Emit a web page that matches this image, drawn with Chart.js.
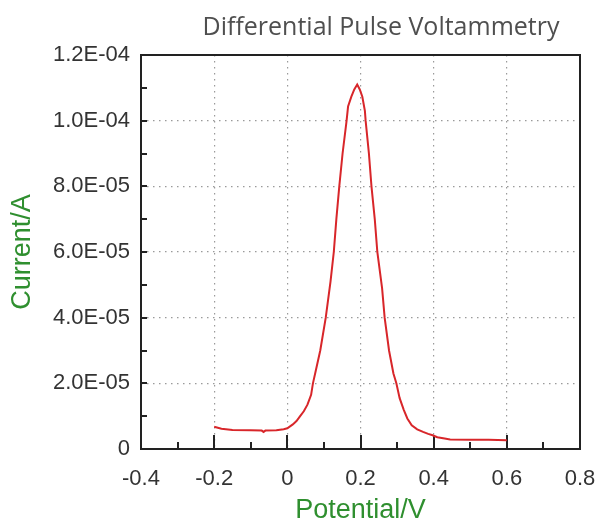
<!DOCTYPE html>
<html>
<head>
<meta charset="utf-8">
<script src="https://cdn.jsdelivr.net/npm/chart.js@4"></script>
<style>
body{margin:0;background:#fff;}
#wrap{width:596px;height:525px;}
</style>
</head>
<body>
<div id="wrap"><canvas id="dpv" width="596" height="525"></canvas></div>
<script>
// potential (V) and current (A)
const potential = [-0.2,-0.18,-0.15,-0.1,-0.07,-0.065,-0.06,-0.03,-0.01,0,0.015,0.025,0.035,0.045,0.055,0.065,0.07,0.078,0.09,0.105,0.118,0.127,0.134,0.142,0.151,0.162,0.166,0.175,0.183,0.191,0.198,0.205,0.212,0.214,0.223,0.23,0.239,0.246,0.259,0.266,0.278,0.29,0.298,0.307,0.318,0.328,0.34,0.355,0.371,0.385,0.397,0.41,0.43,0.445,0.5,0.55,0.6];
const current = [6.8e-6,6.2e-6,5.8e-6,5.7e-6,5.6e-6,5.2e-6,5.6e-6,5.7e-6,6.0e-6,6.3e-6,7.5e-6,8.5e-6,1.0e-5,1.15e-5,1.35e-5,1.65e-5,2.0e-5,2.4e-5,3.0e-5,4.0e-5,5.1e-5,6.0e-5,7.0e-5,8.0e-5,9.0e-5,1.0e-4,1.043e-4,1.073e-4,1.095e-4,1.11e-4,1.095e-4,1.073e-4,1.03e-4,1.0e-4,9.0e-5,8.0e-5,7.0e-5,6.0e-5,4.9e-5,4.0e-5,3.0e-5,2.3e-5,2.0e-5,1.55e-5,1.2e-5,9.3e-6,7.2e-6,6.0e-6,5.2e-6,4.6e-6,4.2e-6,3.6e-6,3.2e-6,2.9e-6,2.8e-6,2.8e-6,2.7e-6];

const xTicks = [-0.4,-0.2,0,0.2,0.4,0.6,0.8];
const xTickLabels = ["-0.4","-0.2","0","0.2","0.4","0.6","0.8"];
const yTicks = [0,2e-5,4e-5,6e-5,8e-5,1e-4,1.2e-4];
const yTickLabels = ["0","2.0E-05","4.0E-05","6.0E-05","8.0E-05","1.0E-04","1.2E-04"];

const titleText = "Differential Pulse Voltammetry";
const xTitle = "Potential/V";
const yTitle = "Current/A";

const green = '#2f8f2f';
const labelFont = {family:'"Liberation Sans", Arial, sans-serif', size:22};

function mids(arr){
let out=[];
for(let i=0;i<arr.length-1;i++) out.push((arr[i]+arr[i+1])/2);
return out;
}

// frame, inward ticks, titles
const decor = {
id:'decor',
beforeDatasetsDraw(chart){
const c = chart.ctx;
const a = chart.chartArea;
const xs = chart.scales.x;
const ys = chart.scales.y;
c.save();
c.strokeStyle='#222';
c.lineWidth=2;
c.beginPath();
xTicks.forEach(v=>{
const px = Math.round(xs.getPixelForValue(v));
c.moveTo(px,a.bottom); c.lineTo(px,a.bottom-14);
});
mids(xTicks).forEach(v=>{
const px = Math.round(xs.getPixelForValue(v));
c.moveTo(px,a.bottom); c.lineTo(px,a.bottom-7);
});
yTicks.concat(mids(yTicks)).forEach(v=>{
const py = Math.round(ys.getPixelForValue(v));
c.moveTo(a.left,py); c.lineTo(a.left+6,py);
});
c.stroke();
c.strokeRect(a.left,a.top,a.right-a.left,a.bottom-a.top);
c.restore();
},
afterDraw(chart){
const c = chart.ctx;
const a = chart.chartArea;
c.save();
c.fillStyle='#4f4f4f';
c.font='25px "Open Sans", "Noto Sans", sans-serif';
c.textAlign='center';
c.textBaseline='alphabetic';
c.fillText(titleText,381,35);
c.fillStyle=green;
c.font='27px "Liberation Sans", Arial, sans-serif';
c.fillText(xTitle,(a.left+a.right)/2,518);
c.translate(30,(a.top+a.bottom)/2);
c.rotate(-Math.PI/2);
c.fillText(yTitle,0,0);
c.restore();
}
};

const ctx = document.getElementById("dpv");

let chart = new Chart(ctx,{
type:'line',
data:{
datasets:[{
data: potential.map((v,i)=>({x:v,y:current[i]})),
borderColor:'#d8262a',
borderWidth:2,
pointRadius:0,
tension:0,
fill:false
}]
},
options:{
responsive:false,
animation:false,
layout:{padding:{left:0,right:16,top:55,bottom:0}},
plugins:{legend:{display:false},tooltip:{enabled:false}},
scales:{
x:{
type:'linear',
min:-0.4,max:0.8,
afterBuildTicks(s){ s.ticks = xTicks.map(v=>({value:v})); },
afterFit(s){ s.height = 76; s.paddingLeft = 0; s.paddingRight = 0; },
ticks:{
color:'#333',font:labelFont,padding:17,maxRotation:0,autoSkip:false,
callback:(v,i)=>xTickLabels[i]
},
grid:{drawTicks:false,color:'#9a9a9a',lineWidth:1.2},
border:{display:false,dash:[1.5,4.5]}
},
y:{
type:'linear',
min:0,max:1.2e-4,
afterBuildTicks(s){ s.ticks = yTicks.map(v=>({value:v})); },
afterFit(s){ s.width = 141; },
ticks:{
color:'#333',font:labelFont,padding:11,autoSkip:false,
callback:(v,i)=>yTickLabels[i]
},
grid:{drawTicks:false,color:'#9a9a9a',lineWidth:1.2},
border:{display:false,dash:[1.5,4.5]}
}
}
},
plugins:[decor]
});
</script>
</body>
</html>
